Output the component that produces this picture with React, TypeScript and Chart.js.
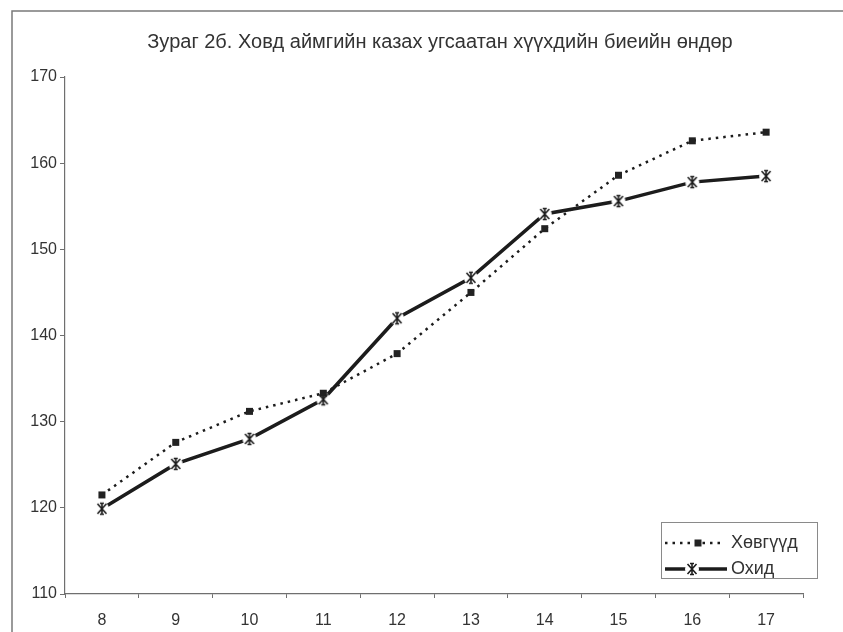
import React, { useEffect, useRef } from "react";
import { Chart, registerables } from "chart.js";

Chart.register(...registerables);

const titleText = "Зураг 2б. Ховд аймгийн казах угсаатан хүүхдийн биеийн өндөр";
const categories = ["8", "9", "10", "11", "12", "13", "14", "15", "16", "17"];
const boysLabel = "Хөвгүүд";
const girlsLabel = "Охид";
const boysValues = [121.5, 127.6, 131.2, 133.3, 137.9, 145.0, 152.4, 158.6, 162.6, 163.6];
const girlsValues = [119.9, 125.1, 128.0, 132.6, 142.0, 146.7, 154.1, 155.6, 157.8, 158.5];
const yTicks = [110, 120, 130, 140, 150, 160, 170];

const INK = "#1c1c1c";
const TEXT = "#333333";
const AXIS = "#6f6f6f";
const FONT = "'Liberation Sans', Arial, sans-serif";

function makeSquareMarker(): HTMLCanvasElement {
  const c = document.createElement("canvas");
  c.width = 9;
  c.height = 9;
  const g = c.getContext("2d")!;
  g.fillStyle = "#222";
  g.fillRect(1, 1, 7, 7);
  return c;
}

function makeStarMarker(): HTMLCanvasElement {
  const c = document.createElement("canvas");
  c.width = 16;
  c.height = 16;
  const g = c.getContext("2d")!;
  g.fillStyle = "#ffffff";
  g.beginPath();
  g.arc(8, 8, 7, 0, Math.PI * 2);
  g.fill();
  g.strokeStyle = INK;
  g.lineWidth = 1.6;
  g.beginPath();
  g.moveTo(3.5, 3);
  g.lineTo(12.5, 13);
  g.moveTo(12.5, 3);
  g.lineTo(3.5, 13);
  g.moveTo(8, 2.5);
  g.lineTo(8, 13.5);
  g.moveTo(6, 2.5);
  g.lineTo(10, 2.5);
  g.moveTo(6, 13.5);
  g.lineTo(10, 13.5);
  g.stroke();
  return c;
}

const decorPlugin = {
  id: "decor",
  beforeDraw(chart: any) {
    const ctx = chart.ctx;
    ctx.save();
    ctx.fillStyle = "#ffffff";
    ctx.fillRect(0, 0, chart.width, chart.height);
    ctx.strokeStyle = "#7a7a7a";
    ctx.lineWidth = 1.5;
    ctx.beginPath();
    ctx.moveTo(12, chart.height);
    ctx.lineTo(12, 11);
    ctx.lineTo(chart.width, 11);
    ctx.stroke();
    ctx.fillStyle = TEXT;
    ctx.font = `20px ${FONT}`;
    ctx.textAlign = "center";
    ctx.textBaseline = "middle";
    ctx.fillText(titleText, 440, 42);
    ctx.restore();
  },
  afterDraw(chart: any) {
    const ctx = chart.ctx;
    ctx.save();
    const bx = 661, by = 522, bw = 156, bh = 56;
    ctx.strokeStyle = "#8a8a8a";
    ctx.lineWidth = 1;
    ctx.strokeRect(bx + 0.5, by + 0.5, bw, bh);
    const rows = [
      { ds: chart.data.datasets[0], y: 543, mx: 698, x2: 725 },
      { ds: chart.data.datasets[1], y: 569, mx: 692, x2: 727 },
    ];
    rows.forEach((r) => {
      ctx.save();
      ctx.strokeStyle = r.ds.borderColor;
      ctx.lineWidth = r.ds.borderWidth;
      ctx.setLineDash(r.ds.borderDash || []);
      ctx.beginPath();
      ctx.moveTo(665, r.y);
      ctx.lineTo(r.x2, r.y);
      ctx.stroke();
      ctx.restore();
      const img = r.ds.pointStyle as HTMLCanvasElement;
      ctx.drawImage(img, r.mx - img.width / 2, r.y - img.height / 2);
      ctx.fillStyle = TEXT;
      ctx.font = `18px ${FONT}`;
      ctx.textAlign = "left";
      ctx.textBaseline = "middle";
      ctx.fillText(r.ds.label, 731, r.y);
    });
    ctx.restore();
  },
};

export default function App() {
  const ref = useRef<HTMLCanvasElement | null>(null);
  useEffect(() => {
    if (!ref.current) return;
    const square = makeSquareMarker();
    const star = makeStarMarker();
    const chart = new Chart(ref.current, {
      type: "line",
      data: {
        labels: categories,
        datasets: [
          {
            label: boysLabel,
            data: boysValues,
            borderColor: INK,
            borderWidth: 2.5,
            borderDash: [2.5, 5],
            pointStyle: square as any,
            pointRadius: 5,
            tension: 0,
          },
          {
            label: girlsLabel,
            data: girlsValues,
            borderColor: INK,
            borderWidth: 3.5,
            pointStyle: star as any,
            pointRadius: 7,
            tension: 0,
          },
        ],
      },
      plugins: [decorPlugin],
      options: {
        responsive: false,
        animation: false,
        devicePixelRatio: 1,
        layout: { padding: { top: 77, right: 40, left: 0, bottom: 0 } },
        plugins: {
          legend: { display: false },
          title: { display: false },
          tooltip: { enabled: false },
        },
        scales: {
          x: {
            type: "category",
            offset: true,
            grid: {
              offset: true,
              drawOnChartArea: false,
              drawTicks: true,
              tickLength: 4,
              color: AXIS,
            },
            border: { display: true, color: AXIS, width: 1.2 },
            ticks: {
              color: TEXT,
              font: { family: FONT, size: 16 },
              padding: 13,
              maxRotation: 0,
            },
            afterFit: (scale: any) => {
              scale.height = 38;
            },
          },
          y: {
            min: 110,
            max: 170,
            afterBuildTicks: (scale: any) => {
              scale.ticks = yTicks.map((v) => ({ value: v }));
            },
            grid: {
              drawOnChartArea: false,
              drawTicks: true,
              tickLength: 5,
              color: AXIS,
            },
            border: { display: true, color: AXIS, width: 1.2 },
            ticks: {
              color: TEXT,
              font: { family: FONT, size: 16 },
              padding: 3,
            },
            afterFit: (scale: any) => {
              scale.width = 65;
            },
          },
        },
      },
    });
    return () => chart.destroy();
  }, []);
  return (
    <div style={{ position: "fixed", left: 0, top: 0, width: 843, height: 632, background: "#fff" }}>
      <canvas ref={ref} width={843} height={632} style={{ display: "block" }} />
    </div>
  );
}
